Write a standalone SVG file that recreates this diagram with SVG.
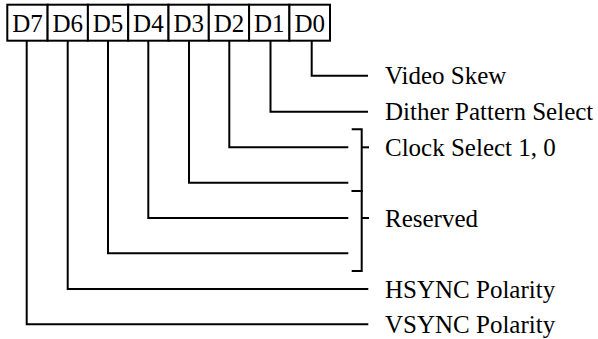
<svg xmlns="http://www.w3.org/2000/svg" width="598" height="339" viewBox="0 0 598 339">
<style>
.ln{fill:none;stroke:#000;stroke-width:2}
.bx{fill:#fff;stroke:#000;stroke-width:2}
.t{font-family:"Liberation Serif","Times New Roman",serif;font-size:25px;fill:#000}
.c{text-anchor:middle}
</style>
<rect width="598" height="339" fill="#fff"/>
<g id="register">
<g id="bit-D7"><rect class="bx" x="7.3" y="4.7" width="40.3" height="36"/><text class="t c" x="27.5" y="32">D7</text></g>
<g id="bit-D6"><rect class="bx" x="47.6" y="4.7" width="40.3" height="36"/><text class="t c" x="67.8" y="32">D6</text></g>
<g id="bit-D5"><rect class="bx" x="87.9" y="4.7" width="40.3" height="36"/><text class="t c" x="108" y="32">D5</text></g>
<g id="bit-D4"><rect class="bx" x="128.2" y="4.7" width="40.3" height="36"/><text class="t c" x="148.4" y="32">D4</text></g>
<g id="bit-D3"><rect class="bx" x="168.5" y="4.7" width="40.3" height="36"/><text class="t c" x="188.7" y="32">D3</text></g>
<g id="bit-D2"><rect class="bx" x="208.8" y="4.7" width="40.3" height="36"/><text class="t c" x="229" y="32">D2</text></g>
<g id="bit-D1"><rect class="bx" x="249.1" y="4.7" width="40.3" height="36"/><text class="t c" x="269.3" y="32">D1</text></g>
<g id="bit-D0"><rect class="bx" x="289.4" y="4.7" width="40.6" height="36"/><text class="t c" x="309.7" y="32">D0</text></g>
</g>
<g id="connectors">
<path class="ln" d="M311.7 40.7V75.7H368"/>
<path class="ln" d="M270.5 40.7V111.7H368"/>
<path class="ln" d="M229.3 40.7V147.3H348.3"/>
<path class="ln" d="M189 40.7V182.7H348.3"/>
<path class="ln" d="M148.3 40.7V218H348.3"/>
<path class="ln" d="M108 40.7V253.3H348.3"/>
<path class="ln" d="M67.7 40.7V289H368.3"/>
<path class="ln" d="M26.7 40.7V324.3H368.3"/>
</g>
<g id="bracket-clock">
<path class="ln" d="M351.7 129.3H361.7V191H351.7"/>
<path class="ln" d="M361.7 147.3H369"/>
</g>
<g id="bracket-reserved">
<path class="ln" d="M351.7 191H361.7V271H351.7"/>
<path class="ln" d="M361.7 218H369"/>
</g>
<g id="labels">
<text class="t" x="385" y="84.3">Video Skew</text>
<text class="t" x="385" y="120.2">Dither Pattern Select</text>
<text class="t" x="385" y="155.8">Clock Select 1, 0</text>
<text class="t" x="385" y="226.5">Reserved</text>
<text class="t" x="385" y="297.5">HSYNC Polarity</text>
<text class="t" x="385" y="332.8">VSYNC Polarity</text>
</g>
</svg>
